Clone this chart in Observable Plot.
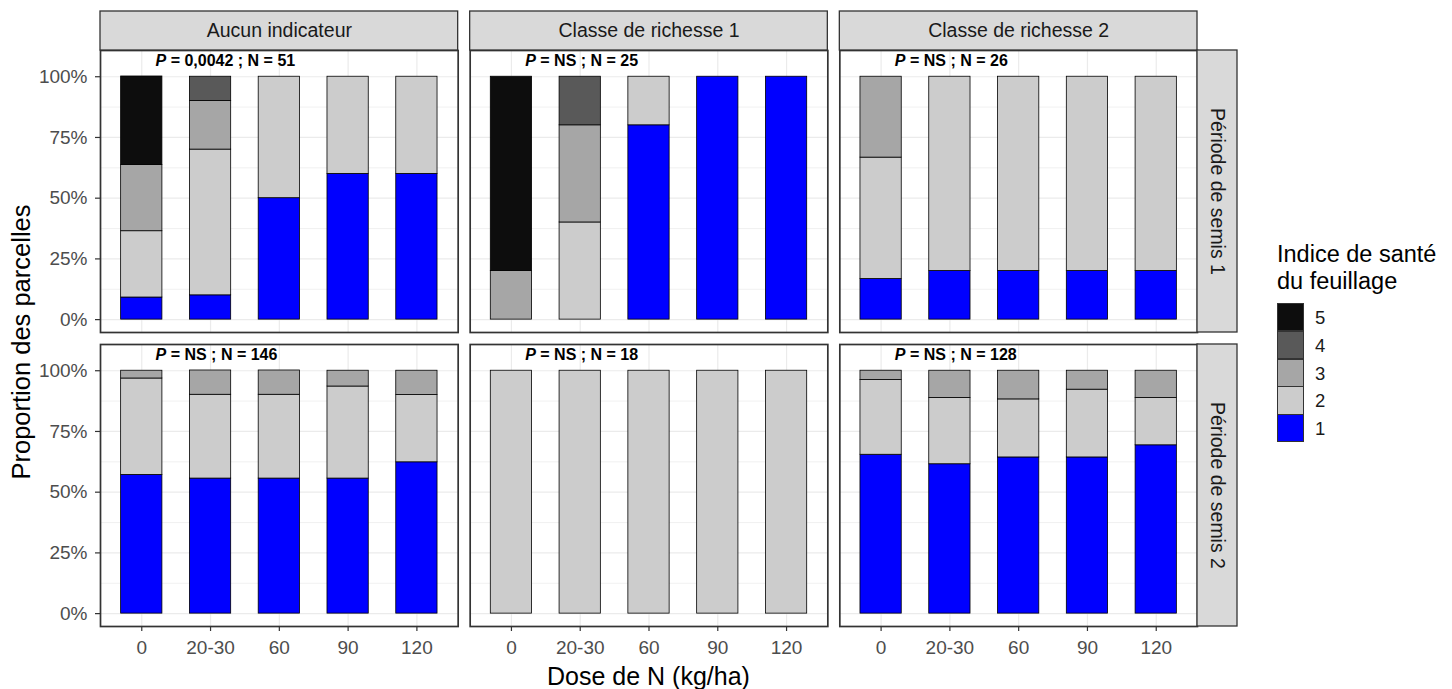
<!DOCTYPE html>
<html><head><meta charset="utf-8">
<script src="https://cdn.jsdelivr.net/npm/d3@7"></script>
<script src="https://cdn.jsdelivr.net/npm/@observablehq/plot@0.6"></script>
<style>
body{margin:0;background:#fff;font-family:'Liberation Sans',Arial,sans-serif}
#wrap{position:relative;width:1452px;height:689px;overflow:hidden}
.abs{position:absolute;white-space:nowrap}
</style>
</head><body><div id="wrap"></div>
<script>
// ---- data ----
const columns = ["Aucun indicateur", "Classe de richesse 1", "Classe de richesse 2"];
const rows = ["Période de semis 1", "Période de semis 2"];
const doses = ["0", "20-30", "60", "90", "120"];
const levels = ["1", "2", "3", "4", "5"];
const levelColors = ["#0000FF", "#CCCCCC", "#A6A6A6", "#595959", "#0D0D0D"];

// proportions: one row per level (1..5), one value per dose
const s1Aucun = [
  [0.091, 0.10, 0.50, 0.60, 0.60],
  [0.273, 0.60, 0.50, 0.40, 0.40],
  [0.273, 0.20, 0, 0, 0],
  [0, 0.10, 0, 0, 0],
  [0.364, 0, 0, 0, 0]
];
const s1Classe1 = [
  [0, 0, 0.80, 1, 1],
  [0, 0.40, 0.20, 0, 0],
  [0.20, 0.40, 0, 0, 0],
  [0, 0.20, 0, 0, 0],
  [0.80, 0, 0, 0, 0]
];
const s1Classe2 = [
  [0.167, 0.20, 0.20, 0.20, 0.20],
  [0.500, 0.80, 0.80, 0.80, 0.80],
  [0.333, 0, 0, 0, 0],
  [0, 0, 0, 0, 0],
  [0, 0, 0, 0, 0]
];
const s2Aucun = [
  [0.571, 0.556, 0.556, 0.556, 0.623],
  [0.397, 0.345, 0.345, 0.379, 0.277],
  [0.032, 0.100, 0.100, 0.065, 0.100],
  [0, 0, 0, 0, 0],
  [0, 0, 0, 0, 0]
];
const s2Classe1 = [
  [0, 0, 0, 0, 0],
  [1, 1, 1, 1, 1],
  [0, 0, 0, 0, 0],
  [0, 0, 0, 0, 0],
  [0, 0, 0, 0, 0]
];
const s2Classe2 = [
  [0.654, 0.615, 0.643, 0.643, 0.693],
  [0.308, 0.273, 0.239, 0.279, 0.195],
  [0.038, 0.112, 0.118, 0.078, 0.112],
  [0, 0, 0, 0, 0],
  [0, 0, 0, 0, 0]
];
const annotP = ["0,0042", "NS", "NS", "NS", "NS", "NS"];
const annotN = [51, 25, 26, 146, 18, 128];
const yMajor = [0, 0.25, 0.5, 0.75, 1];
const yMinor = [0.125, 0.375, 0.625, 0.875];

// ---- build table ----
const panels = [
  [rows[0], columns[0], s1Aucun], [rows[0], columns[1], s1Classe1], [rows[0], columns[2], s1Classe2],
  [rows[1], columns[0], s2Aucun], [rows[1], columns[1], s2Classe1], [rows[1], columns[2], s2Classe2]
];
const data = [];
for (const [row, col, m] of panels) {
  levels.forEach((lv, li) => {
    doses.forEach((d, di) => {
      const v = m[li][di];
      if (v > 0) data.push({row, col, dose: d, level: lv, value: v});
    });
  });
}
const annot = annotP.map((p, i) => ({
  col: columns[i % 3], row: rows[Math.floor(i / 3)],
  rest: ` = ${p} ; N = ${annotN[i]}`
}));

// ---- layout ----
const W = 1452, H = 689;
const mL = 100, mR = 255, mT = 50, mB = 63;
const gapX = 12, gapY = 12;
const panelW = (W - mL - mR - 2 * gapX) / 3;
const panelH = (H - mT - mB - gapY) / 2;
const stripH = 39, stripW = 40;
const gridStyle = {stroke: "#EBEBEB", strokeOpacity: 1};

const chart = Plot.plot({
  width: W, height: H,
  marginLeft: mL, marginRight: mR, marginTop: mT, marginBottom: mB,
  style: {fontFamily: "'Liberation Sans', Arial, sans-serif", background: "white", color: "#000"},
  fx: {domain: columns, paddingInner: gapX / (panelW + gapX), paddingOuter: 0, round: false, axis: null},
  fy: {domain: rows, paddingInner: gapY / (panelH + gapY), paddingOuter: 0, round: false, axis: null},
  x: {domain: doses, paddingInner: 0.4, paddingOuter: 0.3, round: false},
  y: {domain: [-0.053, 1.108]},
  color: {domain: levels, range: levelColors},
  marks: [
    Plot.gridY({ticks: yMinor, ...gridStyle, strokeWidth: 0.7}),
    Plot.gridY({ticks: yMajor, ...gridStyle, strokeWidth: 1.2}),
    Plot.gridX({...gridStyle, strokeWidth: 1.2}),
    Plot.barY(data, {fx: "col", fy: "row", x: "dose", y: "value", fill: "level",
      stroke: "#000", strokeWidth: 0.8}),
    Plot.frame({stroke: "#333333", strokeWidth: 1.7}),
    // top strips
    Plot.rect(columns, {fx: d => d, fy: () => rows[0], insetTop: -stripH, insetBottom: panelH,
      fill: "#D9D9D9", stroke: "#333333", strokeWidth: 1.3}),
    Plot.text(columns, {fx: d => d, fy: () => rows[0], text: d => d, frameAnchor: "top",
      dy: -stripH / 2, lineAnchor: "middle", fontSize: 19.5, fill: "#1A1A1A"}),
    // right strips
    Plot.rect(rows, {fx: () => columns[2], fy: d => d, insetLeft: panelW, insetRight: -stripW,
      fill: "#D9D9D9", stroke: "#333333", strokeWidth: 1.3}),
    Plot.text(rows, {fx: () => columns[2], fy: d => d, text: d => d, frameAnchor: "right",
      dx: stripW / 2, rotate: 90, textAnchor: "middle", lineAnchor: "middle", fontSize: 19.5, fill: "#1A1A1A"}),
    // annotations
    Plot.text(annot, {fx: "col", fy: "row", text: () => "P", frameAnchor: "top-left", dx: 55, dy: 10.5,
      textAnchor: "start", lineAnchor: "middle", fontSize: 16, fontWeight: "bold", fontStyle: "italic", fill: "#000"}),
    Plot.text(annot, {fx: "col", fy: "row", text: "rest", frameAnchor: "top-left", dx: 65.7, dy: 10.5,
      textAnchor: "start", lineAnchor: "middle", fontSize: 16, fontWeight: "bold", fill: "#000"}),
    // axes
    Plot.axisY({anchor: "left", ticks: yMajor, tickFormat: d => `${Math.round(d * 100)}%`, tickSize: 5,
      tickPadding: 8, fontSize: 19, fill: "#4D4D4D", stroke: "#333333", strokeWidth: 1.2, label: null}),
    Plot.axisX({anchor: "bottom", tickSize: 5, tickPadding: 9, fontSize: 19, fill: "#4D4D4D",
      stroke: "#333333", strokeWidth: 1.2, label: null})
  ]
});

const wrap = document.getElementById("wrap");
wrap.appendChild(chart);

// axis titles
const yTitle = document.createElement("div");
yTitle.className = "abs";
yTitle.textContent = "Proportion des parcelles";
Object.assign(yTitle.style, {left: (21 - 200) + "px", top: (342 - 15) + "px", width: "400px", height: "30px",
  lineHeight: "30px", textAlign: "center", fontSize: "25.5px", color: "#000", transform: "rotate(-90deg)"});
wrap.appendChild(yTitle);

const xTitle = document.createElement("div");
xTitle.className = "abs";
xTitle.textContent = "Dose de N (kg/ha)";
Object.assign(xTitle.style, {left: (648.5 - 200) + "px", top: "664px", width: "400px", height: "25px",
  lineHeight: "25px", textAlign: "center", fontSize: "25px", color: "#000"});
wrap.appendChild(xTitle);

// legend
const leg = document.createElement("div");
leg.className = "abs";
Object.assign(leg.style, {left: "1277px", top: "241px"});
const lt1 = document.createElement("div");
lt1.textContent = "Indice de santé";
const lt2 = document.createElement("div");
lt2.textContent = "du feuillage";
for (const el of [lt1, lt2]) {
  Object.assign(el.style, {fontSize: "23.5px", lineHeight: "26.5px", height: "26.5px", color: "#000"});
  leg.appendChild(el);
}
const keys = document.createElement("div");
Object.assign(keys.style, {position: "absolute", left: "0px", top: "62px"});
levels.slice().reverse().forEach((lv, i) => {
  const row = document.createElement("div");
  Object.assign(row.style, {position: "absolute", left: "0px", top: (i * 27.8) + "px", height: "27.8px", width: "120px"});
  const sw = document.createElement("div");
  Object.assign(sw.style, {position: "absolute", left: "0px", top: "0px", width: "25px", height: "26.3px",
    background: levelColors[levels.indexOf(lv)], border: "0.8px solid #333", boxSizing: "content-box"});
  const lab = document.createElement("div");
  lab.textContent = lv;
  Object.assign(lab.style, {position: "absolute", left: "38px", top: "1px", lineHeight: "27.8px", fontSize: "18.5px", color: "#1A1A1A"});
  row.appendChild(sw); row.appendChild(lab);
  keys.appendChild(row);
});
leg.appendChild(keys);
wrap.appendChild(leg);
</script></body></html>
